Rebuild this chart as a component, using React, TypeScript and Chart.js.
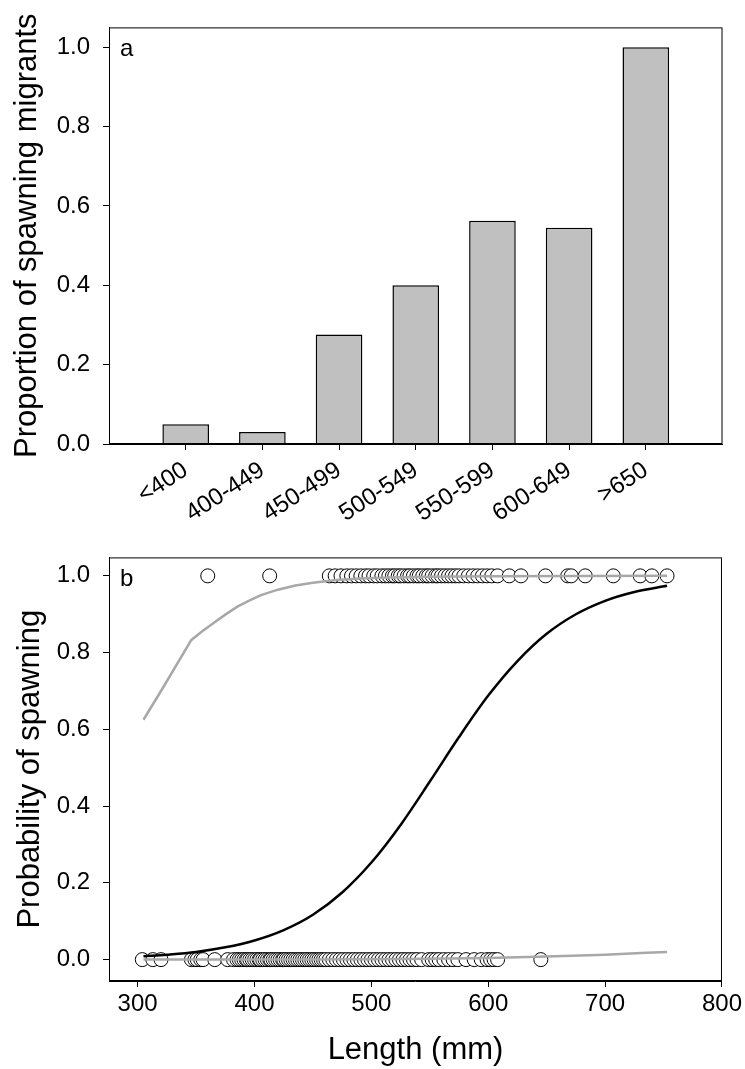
import { useEffect, useRef } from "react";
import { Chart, registerables } from "chart.js";

Chart.register(...registerables);

// Panel a: share of fish that were spawning migrants, by length class
const sizeClasses = ["<400", "400-449", "450-499", "500-549", "550-599", "600-649", ">650"];
const migrantShare = [0.05, 0.03, 0.276, 0.4, 0.5625, 0.545, 1.0];
const shareTicks = [0, 0.2, 0.4, 0.6, 0.8, 1.0];

// Panel b: individual fish (1 = spawned, 0 = did not spawn)
const spawnedLengths = [
  360, 413,
  464, 469, 474, 479, 483, 487, 491, 495, 498, 502, 505, 509, 512, 515, 518, 520, 523, 525,
  528, 531, 533, 536, 539, 541, 544, 547, 549, 552, 555, 557, 560, 563, 566, 569, 572, 575,
  579, 583, 587, 591, 595, 599, 603,
  608, 618, 628, 649, 668, 671, 683, 707, 730, 740, 753,
];
const skippedLengths = [
  304, 313, 320, 346, 349, 351, 354, 356, 366, 377,
  382, 385, 387, 389, 391, 393, 394, 396, 398, 400, 402, 404, 405, 407, 409, 411, 413, 414,
  416, 418, 420, 422, 424, 425, 427, 429, 431, 433, 435, 437, 439, 441, 443, 445, 447, 449,
  451, 453, 455, 457, 459, 461, 464, 467, 470, 473, 476, 479, 482, 485, 488, 491, 494, 497,
  500, 503, 506, 509, 512, 515, 518, 521, 524, 527, 530, 533, 536, 539, 543, 549, 552, 555,
  558, 562, 566, 570, 574, 581, 588, 594, 599, 602, 605, 608,
  645,
];

// Fitted logistic curve
const fitLength = [305, 325, 350, 375, 400, 425, 450, 475, 500, 525, 550, 575, 600, 625, 650, 675, 700, 725, 753];
const fitProb = [0.009, 0.013, 0.02, 0.032, 0.05, 0.077, 0.117, 0.175, 0.253, 0.351, 0.464, 0.58, 0.688, 0.778, 0.849, 0.9, 0.935, 0.958, 0.974];

// Upper and lower confidence bounds
const upperLength = [305, 320, 346, 355, 365, 375, 385, 395, 405, 420, 435, 450, 470, 490, 515, 550, 600, 753];
const upperProb = [0.625, 0.7, 0.833, 0.855, 0.877, 0.899, 0.919, 0.935, 0.949, 0.964, 0.975, 0.982, 0.989, 0.993, 0.996, 0.998, 0.999, 1.0];
const lowerLength = [305, 400, 500, 550, 600, 650, 700, 753];
const lowerProb = [0.0, 0.0003, 0.001, 0.002, 0.004, 0.008, 0.013, 0.02];

const probTicks = [0, 0.2, 0.4, 0.6, 0.8, 1.0];
const lengthTicks = [300, 400, 500, 600, 700, 800];

const FONT = "Arial, 'Liberation Sans', sans-serif";
const tickFont = { family: FONT, size: 24 };
const titleFont = { family: FONT, size: 31 };

// Draws the closed plot frame and the panel letter
const framePlugin = {
  id: "frame",
  afterDraw(chart: any, _args: any, opts: any) {
    const { ctx, chartArea: a } = chart;
    ctx.save();
    ctx.strokeStyle = "#000";
    ctx.lineWidth = 1;
    ctx.strokeRect(a.left + 0.5, a.top + 0.5, a.right - a.left - 1, a.bottom - a.top - 1);
    ctx.font = `24px ${FONT}`;
    ctx.fillStyle = "#000";
    ctx.textBaseline = "middle";
    ctx.textAlign = "left";
    ctx.fillText(opts.letter, a.left + 11, a.top + 22);
    ctx.restore();
  },
};

function barConfig(): any {
  const labels = ["", ...sizeClasses, ""];
  return {
    type: "bar",
    data: {
      labels,
      datasets: [
        {
          data: [null, ...migrantShare, null],
          backgroundColor: "#c0c0c0",
          borderColor: "#000",
          borderWidth: 1.5,
          barPercentage: 0.608,
          categoryPercentage: 1,
        },
      ],
    },
    options: {
      responsive: false,
      animation: false,
      devicePixelRatio: 1,
      layout: { padding: { top: 15, right: 22.5, left: 0, bottom: 0 } },
      plugins: { legend: { display: false }, tooltip: { enabled: false }, frame: { letter: "a" } },
      scales: {
        x: {
          offset: false,
          grid: {
            offset: false,
            drawOnChartArea: false,
            tickLength: 6,
            tickWidth: 1,
            tickColor: (c: any) => (c.index === 0 || c.index === labels.length - 1 ? "rgba(0,0,0,0)" : "#000"),
          },
          border: { color: "#000", width: 1 },
          ticks: { autoSkip: false, maxRotation: 33, minRotation: 33, font: tickFont, color: "#000", padding: 6 },
          afterFit: (s: any) => {
            s.height = 86;
          },
        },
        y: {
          min: 0,
          max: 1.05,
          afterBuildTicks: (s: any) => {
            s.ticks = shareTicks.map((v) => ({ value: v }));
          },
          ticks: { callback: (v: any) => Number(v).toFixed(1), font: tickFont, color: "#000", padding: 13 },
          grid: { drawOnChartArea: false, tickLength: 6, tickColor: "#000" },
          border: { color: "#000", width: 1 },
          title: {
            display: true,
            text: "Proportion of spawning migrants",
            font: titleFont,
            color: "#000",
            padding: { top: 9, bottom: 0 },
          },
          afterFit: (s: any) => {
            s.width = 109;
          },
        },
      },
    },
    plugins: [framePlugin],
  };
}

function probConfig(): any {
  const pts = (xs: number[], ys: number[]) => xs.map((x, i) => ({ x, y: ys[i] }));
  return {
    type: "scatter",
    data: {
      datasets: [
        {
          type: "line",
          data: pts(upperLength, upperProb),
          borderColor: "#a8a8a8",
          borderWidth: 2.5,
          pointRadius: 0,
          tension: 0,
          order: 0,
        },
        {
          type: "line",
          data: pts(lowerLength, lowerProb),
          borderColor: "#a8a8a8",
          borderWidth: 2.5,
          pointRadius: 0,
          cubicInterpolationMode: "monotone",
          order: 0,
        },
        {
          type: "line",
          data: pts(fitLength, fitProb),
          borderColor: "#000",
          borderWidth: 2.5,
          pointRadius: 0,
          cubicInterpolationMode: "monotone",
          order: 0,
        },
        {
          data: [
            ...skippedLengths.map((x) => ({ x, y: 0 })),
            ...spawnedLengths.map((x) => ({ x, y: 1 })),
          ],
          pointRadius: 7,
          pointBorderWidth: 1,
          pointBorderColor: "#000",
          pointBackgroundColor: "#fff",
          showLine: false,
          order: 1,
        },
      ],
    },
    options: {
      responsive: false,
      animation: false,
      devicePixelRatio: 1,
      layout: { padding: { top: 15, right: 22.7, left: 0, bottom: 0 } },
      plugins: { legend: { display: false }, tooltip: { enabled: false }, frame: { letter: "b" } },
      scales: {
        x: {
          type: "linear",
          min: 275.5,
          max: 800,
          afterBuildTicks: (s: any) => {
            s.ticks = lengthTicks.map((v) => ({ value: v }));
          },
          ticks: { font: tickFont, color: "#000", padding: 3, maxRotation: 0, callback: (v: any) => String(v) },
          grid: { drawOnChartArea: false, tickLength: 6, tickColor: "#000" },
          border: { color: "#000", width: 1 },
          title: { display: true, text: "Length (mm)", font: titleFont, color: "#000", padding: { top: 6, bottom: 0 } },
          afterFit: (s: any) => {
            s.height = 88;
          },
        },
        y: {
          type: "linear",
          min: -0.0557,
          max: 1.0481,
          afterBuildTicks: (s: any) => {
            s.ticks = probTicks.map((v) => ({ value: v }));
          },
          ticks: { callback: (v: any) => Number(v).toFixed(1), font: tickFont, color: "#000", padding: 13 },
          grid: { drawOnChartArea: false, tickLength: 6, tickColor: "#000" },
          border: { color: "#000", width: 1 },
          title: {
            display: true,
            text: "Probability of spawning",
            font: titleFont,
            color: "#000",
            padding: { top: 12, bottom: 0 },
          },
          afterFit: (s: any) => {
            s.width = 109;
          },
        },
      },
    },
    plugins: [framePlugin],
  };
}

export default function App() {
  const barRef = useRef<HTMLCanvasElement>(null);
  const probRef = useRef<HTMLCanvasElement>(null);

  useEffect(() => {
    const charts = [new Chart(barRef.current!, barConfig()), new Chart(probRef.current!, probConfig())];
    return () => charts.forEach((c) => c.destroy());
  }, []);

  return (
    <div style={{ position: "absolute", left: 0, top: 0, width: 745, height: 1069, background: "#fff" }}>
      <canvas
        ref={barRef}
        width={745}
        height={530}
        style={{ position: "absolute", left: 0, top: 0, width: 745, height: 530 }}
      />
      <canvas
        ref={probRef}
        width={745}
        height={539}
        style={{ position: "absolute", left: 0, top: 530, width: 745, height: 539 }}
      />
    </div>
  );
}
